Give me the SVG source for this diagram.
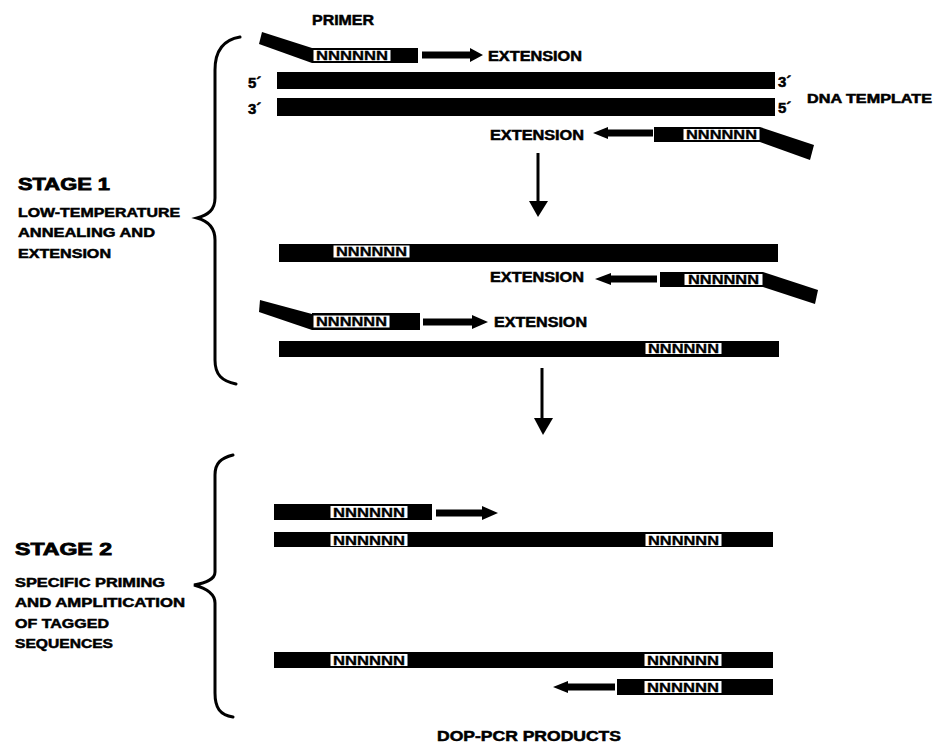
<svg xmlns="http://www.w3.org/2000/svg" width="933" height="744" viewBox="0 0 933 744">
<style>
text{font-family:"Liberation Sans",Arial,sans-serif;font-weight:bold;fill:#000;stroke:#000;stroke-width:0.5}
.lbl{font-size:14px}
.big{font-size:15px}
.st{font-size:17px;stroke-width:0.8}
.sub{font-size:13px}
.sm{font-size:12px}
.bar{fill:#000}
.nbox{fill:#fff;stroke:#000;stroke-width:1}
.n{font-size:12px;stroke-width:0.3}
.arr{fill:#000}
.br{fill:none;stroke:#000;stroke-width:3;stroke-linecap:round}
</style>
<rect width="933" height="744" fill="#fff"/>

<g id="labels">
<text class="lbl" x="312" y="25" textLength="62" lengthAdjust="spacingAndGlyphs">PRIMER</text>
<text class="big" x="248" y="88">5´</text>
<text class="big" x="248" y="114">3´</text>
<text class="big" x="778" y="87">3´</text>
<text class="big" x="778" y="113">5´</text>
<text class="sm" x="807" y="103" textLength="125" lengthAdjust="spacingAndGlyphs">DNA TEMPLATE</text>
<text class="lbl" x="488" y="61" textLength="94" lengthAdjust="spacingAndGlyphs">EXTENSION</text>
<text class="lbl" x="490" y="140" textLength="94" lengthAdjust="spacingAndGlyphs">EXTENSION</text>
<text class="lbl" x="490" y="282" textLength="94" lengthAdjust="spacingAndGlyphs">EXTENSION</text>
<text class="lbl" x="494" y="327" textLength="93" lengthAdjust="spacingAndGlyphs">EXTENSION</text>
<text class="lbl" x="437" y="741" textLength="184" lengthAdjust="spacingAndGlyphs">DOP-PCR PRODUCTS</text>
</g>

<g id="stage1">
<text class="st" x="18" y="190" textLength="92" lengthAdjust="spacingAndGlyphs">STAGE 1</text>
<text class="sub" x="18" y="217" textLength="162" lengthAdjust="spacingAndGlyphs">LOW-TEMPERATURE</text>
<text class="sub" x="18" y="237" textLength="137" lengthAdjust="spacingAndGlyphs">ANNEALING AND</text>
<text class="sub" x="18" y="258" textLength="93" lengthAdjust="spacingAndGlyphs">EXTENSION</text>
<path class="br" d="M240,37 C222,40 215,52 215,70 L215,198 C215,210 208,215 197,218 C208,221 215,228 215,240 L215,360 C215,375 222,381 236,384"/>
</g>

<g id="stage2">
<text class="st" x="15" y="555" textLength="97" lengthAdjust="spacingAndGlyphs">STAGE 2</text>
<text class="sub" x="15" y="587" textLength="150" lengthAdjust="spacingAndGlyphs">SPECIFIC PRIMING</text>
<text class="sub" x="15" y="607" textLength="170" lengthAdjust="spacingAndGlyphs">AND AMPLITICATION</text>
<text class="sub" x="15" y="628" textLength="94" lengthAdjust="spacingAndGlyphs">OF TAGGED</text>
<text class="sub" x="15" y="648" textLength="98" lengthAdjust="spacingAndGlyphs">SEQUENCES</text>
<path class="br" d="M233,455 C221,458 215,463 215,475 L215,572 C215,580 205,583 194,585 C205,588 215,593 215,603 L215,693 C215,708 220,715 233,717"/>
</g>

<g id="template">
<rect class="bar" x="277" y="72" width="498" height="17"/>
<rect class="bar" x="277" y="98" width="498" height="18"/>
</g>

<g id="primer1">
<polygon class="bar" points="262,32 312,48 312,63 259,44"/>
<rect class="bar" x="312" y="48" width="106" height="15"/>
<rect class="nbox" x="313" y="49.5" width="78" height="12"/>
<text class="n" x="316" y="60" textLength="72" lengthAdjust="spacingAndGlyphs">NNNNNN</text>
</g>

<g id="primer2">
<polygon class="bar" points="760,127 814,145 810,160 760,142"/>
<rect class="bar" x="654" y="127" width="106" height="15"/>
<rect class="nbox" x="683" y="128.5" width="77" height="12"/>
<text class="n" x="686" y="139" textLength="71" lengthAdjust="spacingAndGlyphs">NNNNNN</text>
</g>

<g id="strand1">
<rect class="bar" x="279" y="244" width="499" height="18"/>
<rect class="nbox" x="333" y="245" width="77" height="13"/>
<text class="n" x="336" y="256" textLength="71" lengthAdjust="spacingAndGlyphs">NNNNNN</text>
</g>

<g id="primer3">
<polygon class="bar" points="763,272 818,290 815,304 763,287"/>
<rect class="bar" x="660" y="272" width="103" height="15"/>
<rect class="nbox" x="684" y="273.5" width="79" height="12"/>
<text class="n" x="688" y="284" textLength="71" lengthAdjust="spacingAndGlyphs">NNNNNN</text>
</g>

<g id="primer4">
<polygon class="bar" points="260,300 312,314 312,330 259,312"/>
<rect class="bar" x="312" y="313" width="108" height="17"/>
<rect class="nbox" x="313" y="315" width="77" height="13"/>
<text class="n" x="316" y="326" textLength="71" lengthAdjust="spacingAndGlyphs">NNNNNN</text>
</g>

<g id="strand2">
<rect class="bar" x="279" y="341" width="500" height="16"/>
<rect class="nbox" x="645" y="342.5" width="77" height="12"/>
<text class="n" x="648" y="353" textLength="71" lengthAdjust="spacingAndGlyphs">NNNNNN</text>
</g>

<g id="primer5">
<rect class="bar" x="274" y="504" width="158" height="16"/>
<rect class="nbox" x="330" y="505.5" width="78" height="13"/>
<text class="n" x="333" y="516.5" textLength="72" lengthAdjust="spacingAndGlyphs">NNNNNN</text>
</g>

<g id="strand3">
<rect class="bar" x="274" y="532" width="499" height="15"/>
<rect class="nbox" x="330" y="533.5" width="78" height="13"/>
<text class="n" x="333" y="545" textLength="72" lengthAdjust="spacingAndGlyphs">NNNNNN</text>
<rect class="nbox" x="645" y="533.5" width="77" height="13"/>
<text class="n" x="648" y="545" textLength="71" lengthAdjust="spacingAndGlyphs">NNNNNN</text>
</g>

<g id="strand4">
<rect class="bar" x="274" y="652" width="499" height="16"/>
<rect class="nbox" x="330" y="653.5" width="78" height="13"/>
<text class="n" x="333" y="665" textLength="72" lengthAdjust="spacingAndGlyphs">NNNNNN</text>
<rect class="nbox" x="644" y="653.5" width="78" height="13"/>
<text class="n" x="647" y="665" textLength="72" lengthAdjust="spacingAndGlyphs">NNNNNN</text>
</g>

<g id="strand5">
<rect class="bar" x="617" y="679" width="156" height="16"/>
<rect class="nbox" x="644" y="680.5" width="78" height="13"/>
<text class="n" x="647" y="692" textLength="72" lengthAdjust="spacingAndGlyphs">NNNNNN</text>
</g>

<g id="connectors">
<polygon class="arr" points="422,51.5 470,51.5 470,48 483,55 470,62 470,58.5 422,58.5"/>
<polygon class="arr" points="423,318.5 472,318.5 472,315 488,322 472,329 472,325.5 423,325.5"/>
<polygon class="arr" points="436,509.5 482,509.5 482,506 498,513 482,520 482,516.5 436,516.5"/>
<polygon class="arr" points="593,133 608,127 608,129.5 653,129.5 653,136.5 608,136.5 608,139"/>
<polygon class="arr" points="595,279 611,273 611,275.5 657,275.5 657,282.5 611,282.5 611,285"/>
<polygon class="arr" points="553,687 568,681 568,683.5 615,683.5 615,690.5 568,690.5 568,693"/>
<line x1="538" y1="153" x2="538" y2="205" stroke="#000" stroke-width="3"/>
<polygon class="arr" points="529,201 548,201 538,217"/>
<line x1="542" y1="368" x2="542" y2="420" stroke="#000" stroke-width="3"/>
<polygon class="arr" points="534,418 553,418 543,435"/>
</g>
</svg>
